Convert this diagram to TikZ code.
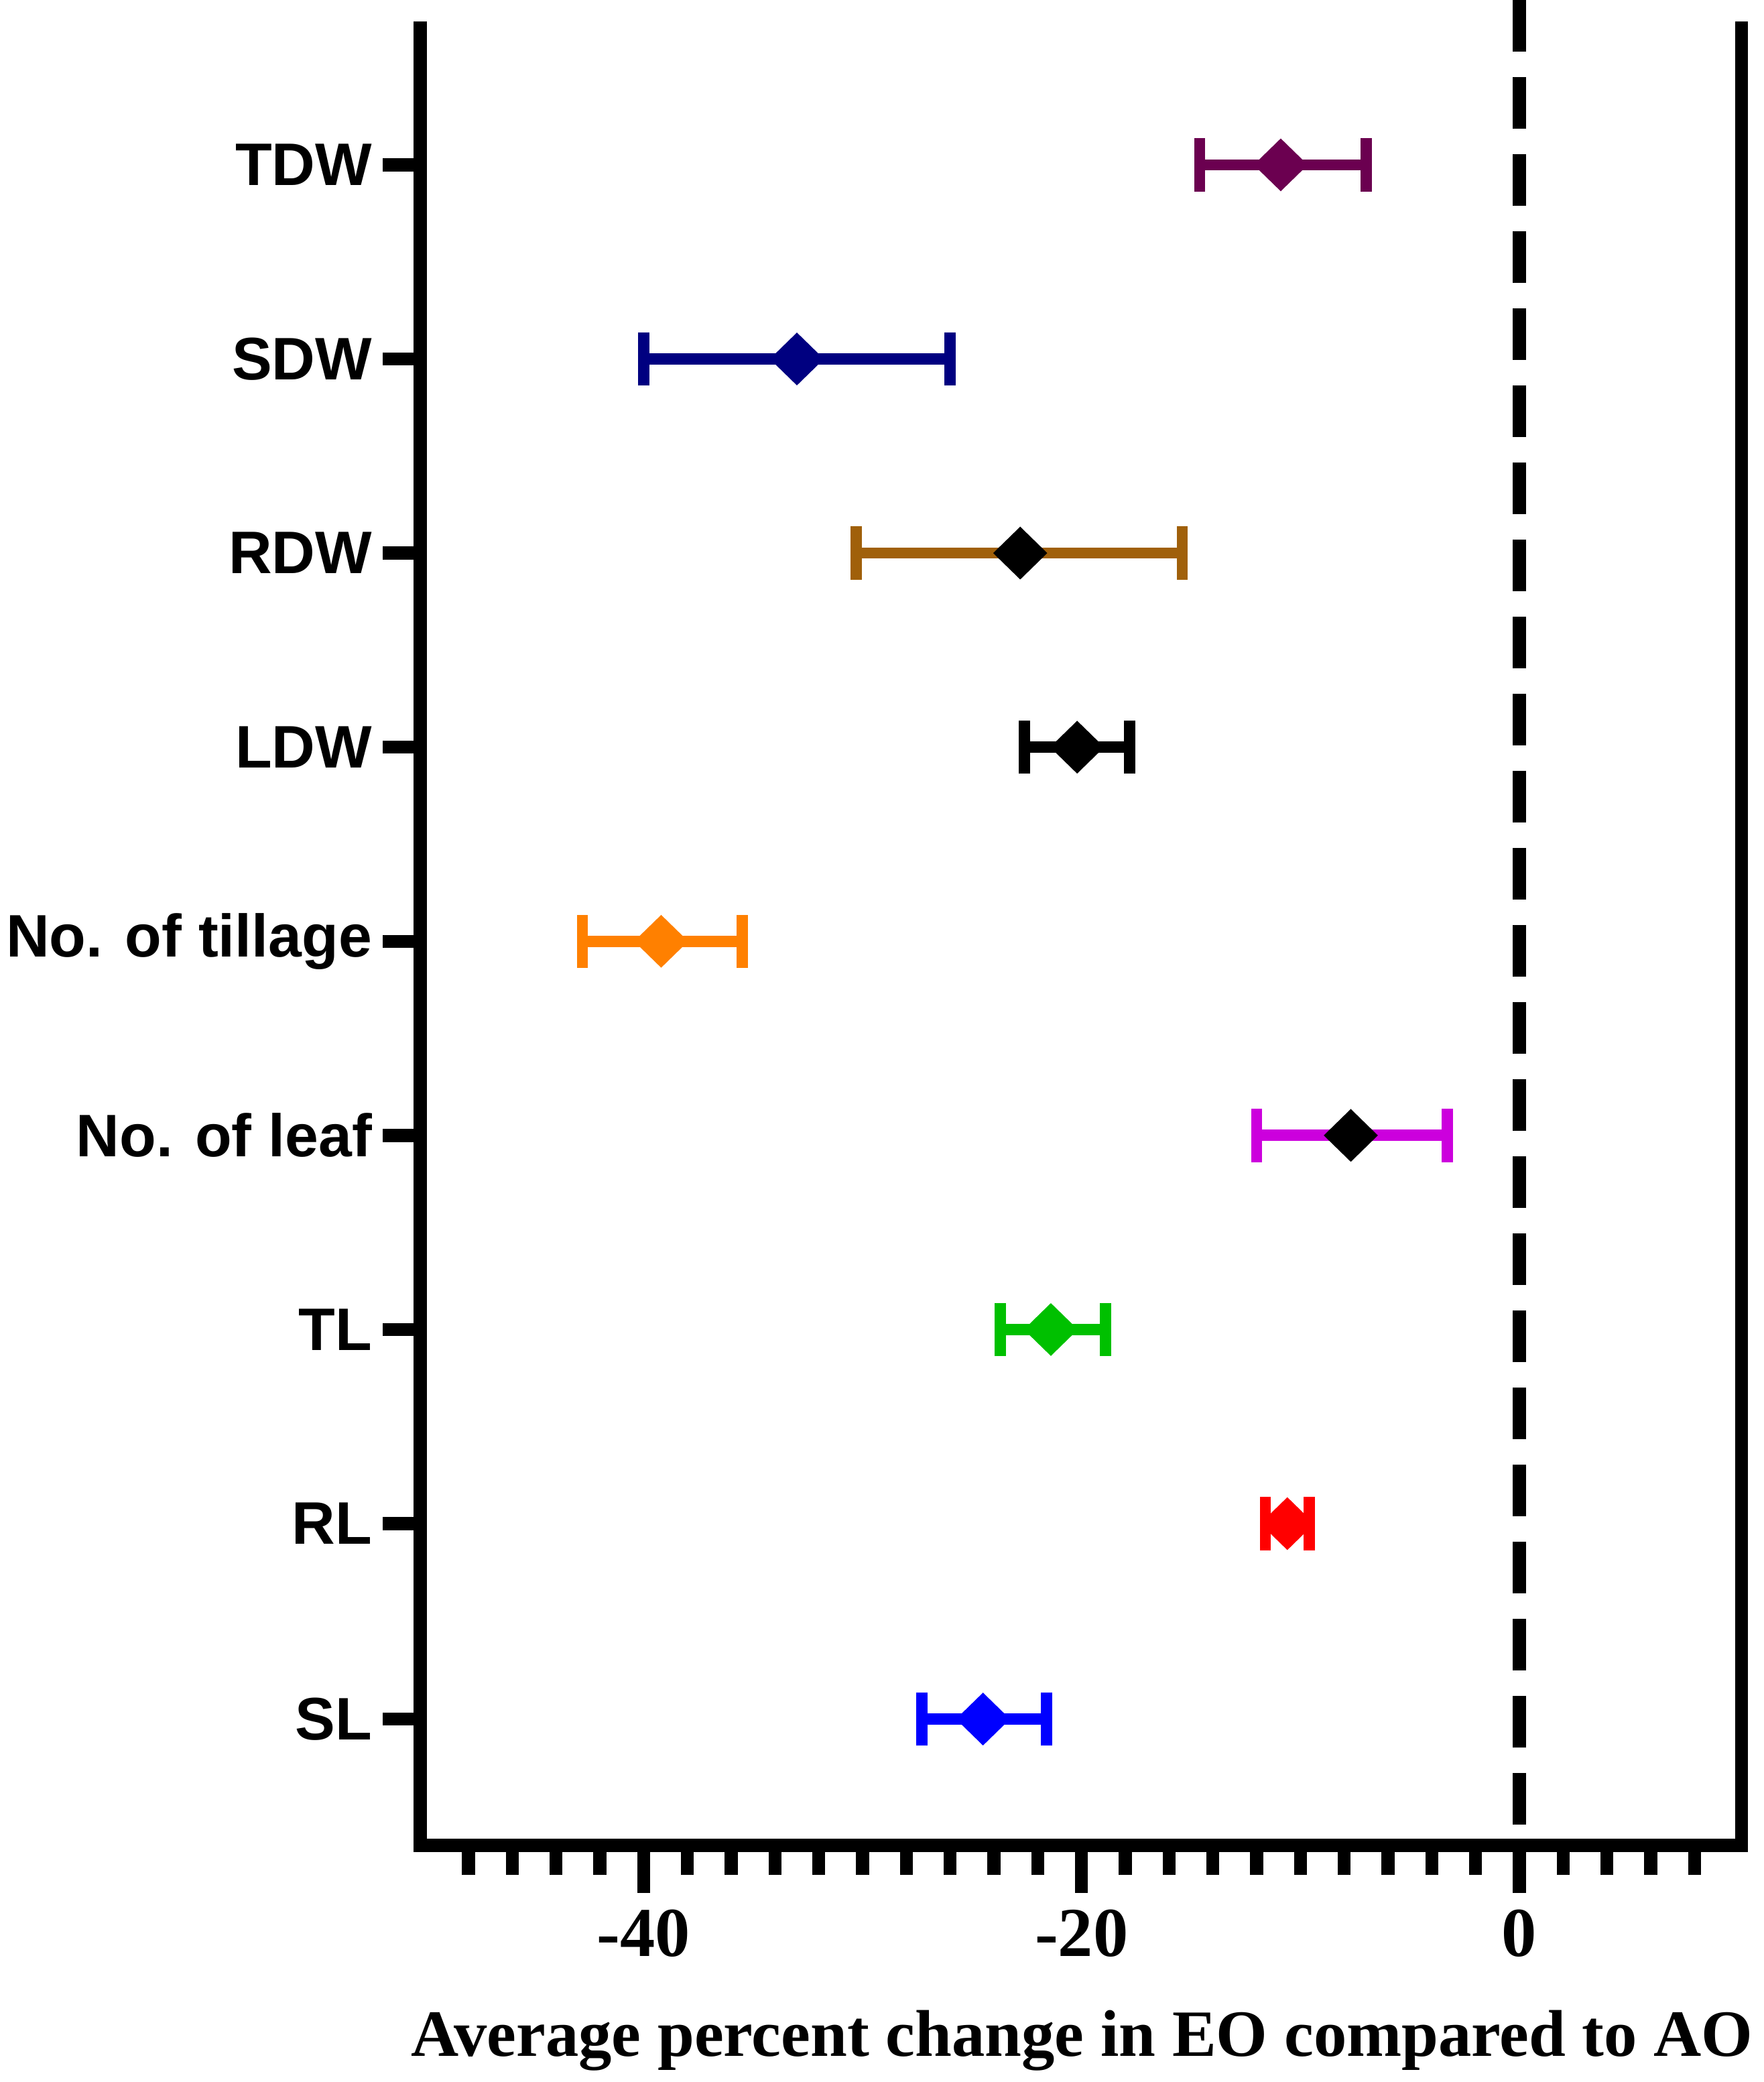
\documentclass[tikz,border=0pt]{standalone}
\usepackage{fontspec}
\setmainfont{Liberation Serif}
\newfontfamily\sansf{Liberation Sans}
\usetikzlibrary{shapes.geometric}
\definecolor{cTDW}{HTML}{6B0050}
\definecolor{cSDW}{HTML}{000080}
\definecolor{cRDW}{HTML}{A0600A}
\definecolor{cTIL}{HTML}{FF8000}
\definecolor{cLEAF}{HTML}{CC00DD}
\definecolor{cTL}{HTML}{00C000}
\definecolor{cSL}{HTML}{0000FF}
\tikzset{
  frame/.style={line width=5.6pt},
  bar/.style={line width=4.8pt},
  dmark/.style={diamond,inner sep=0pt,minimum width=0.82cm,minimum height=0.8cm},
  ylab/.style={anchor=east,font=\sansf\bfseries\fontsize{25.7}{28}\selectfont},
  xlab/.style={anchor=north,font=\bfseries\fontsize{30}{32}\selectfont}
}
\begin{document}
\begin{tikzpicture}[x=0.02cm,y=-0.02cm]
\useasboundingbox (0,0) rectangle (1327,1566);
% frame
\draw[frame] (316,16) -- (316,1388) -- (1310,1388) -- (1310,16);
% zero line
\draw[line width=5.6pt,dash pattern=on 22pt off 11pt] (1143,0) -- (1143,1388);
% x ticks
\foreach \v in {-48,-46,...,8}
  \draw[frame] ({1143+16.47*\v},1388) -- ({1143+16.47*\v},1410);
\foreach \v/\t in {-40/-40,-20/-20,0/0}{
  \draw[frame] ({1143+16.47*\v},1388) -- ({1143+16.47*\v},1424);
  \node[xlab] (t\t) at ({1143+16.47*\v},1430) {\t};
}
\node[anchor=north east,font=\bfseries\fontsize{28.3}{30}\selectfont] (xtitle) at (1325,1506) {Average percent change in EO compared to AO};
% rows: y, label, low, mean, high, bar colour, mark colour
\foreach \y/\lab/\lo/\m/\hi/\bc/\mc [count=\i] in {
  124/TDW/-14.6/-10.9/-7.0/cTDW/cTDW,
  270/SDW/-40.0/-33.0/-26.0/cSDW/cSDW,
  416/RDW/-30.3/-22.8/-15.4/cRDW/black,
  562/LDW/-22.6/-20.2/-17.8/black/black,
  708/No. of tillage/-42.8/-39.2/-35.5/cTIL/cTIL,
  854/No. of leaf/-12.0/-7.7/-3.3/cLEAF/black,
  1000/TL/-23.7/-21.4/-18.9/cTL/cTL,
  1146/RL/-11.6/-10.6/-9.6/red/red,
  1293/SL/-27.3/-24.5/-21.6/cSL/cSL}{
  \draw[frame] (288,\y) -- (316,\y);
  \node[ylab] (l\i) at (286,\y) {\lab};
  \coordinate (a\i) at ({1143+16.47*\lo},\y);
  \coordinate (b\i) at ({1143+16.47*\hi},\y);
  \draw[bar,\bc] (a\i) -- (b\i);
  \draw[bar,\bc] ([yshift=-0.4cm]a\i) -- ([yshift=0.4cm]a\i);
  \draw[bar,\bc] ([yshift=-0.4cm]b\i) -- ([yshift=0.4cm]b\i);
  \node[dmark,fill=\mc] (m\i) at ({1143+16.47*\m},\y) {};
}
\end{tikzpicture}
\end{document}
